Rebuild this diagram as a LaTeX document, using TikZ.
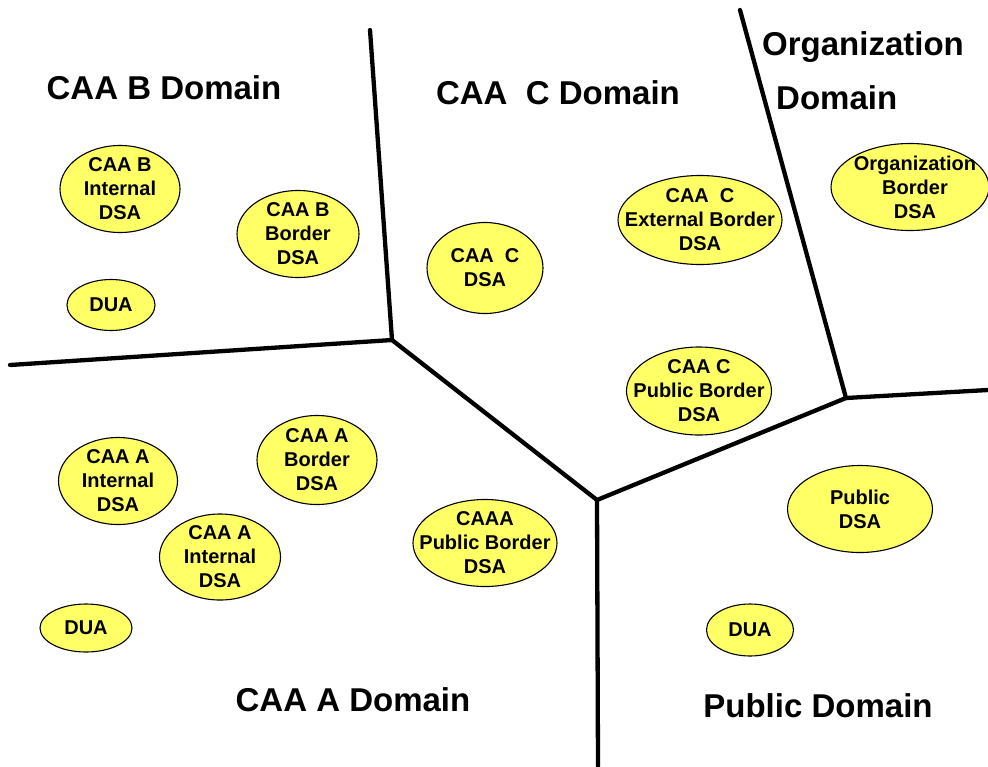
\documentclass[tikz,border=0pt]{standalone}
\usepackage{fontspec}
\setmainfont{Liberation Sans}
\usetikzlibrary{shapes.geometric}
\definecolor{dsayellow}{RGB}{255,255,102}
\tikzset{
  dsa/.style={ellipse, draw=black, line width=1.1pt, fill=dsayellow, inner sep=0pt},
  dsatxt/.style={align=center, inner sep=0pt, font=\fontsize{20}{24}\selectfont\bfseries},
  domtitle/.style={anchor=center, inner sep=0pt, font=\fontsize{33}{40}\selectfont\bfseries},
  border/.style={line width=4.3pt, line cap=round, line join=round}
}
\begin{document}
\begin{tikzpicture}[x=1pt, y=-1pt]
\useasboundingbox (0,0) rectangle (988,766);

% borders
\coordinate (bctop) at (370,30);
\coordinate (j1) at (392,340);
\coordinate (lefte) at (10,365);
\coordinate (j2) at (597,500);
\coordinate (bottome) at (598,766);
\coordinate (j3) at (846,398);
\coordinate (orgtop) at (740,10);
\coordinate (righte) at (988,390);
\draw[border] (bctop) -- (j1);
\draw[border] (lefte) -- (j1);
\draw[border] (j1) -- (j2);
\draw[border] (j2) -- (bottome);
\draw[border] (j2) -- (j3);
\draw[border] (orgtop) -- (j3);
\draw[border] (j3) -- (righte);

% titles
\node[domtitle] (tb) at (164,88) {CAA B Domain};
\node[domtitle] (tc) at (558,93) {CAA\ \ C Domain};
\node[domtitle, anchor=west] (to1) at (762,47) {Organization};
\node[domtitle, anchor=west] (to2) at (776,98) {Domain};
\node[domtitle] (ta) at (353,700) {CAA A Domain};
\node[domtitle] (tp) at (818,706) {Public Domain};

% CAA B domain
\node[dsa, minimum width=120, minimum height=87] (bint) at (120,189) {};
\node[dsatxt] at (bint) {CAA B\\Internal\\DSA};
\node[dsa, minimum width=122, minimum height=87] (bbor) at (298,234) {};
\node[dsatxt] at (bbor) {CAA B\\Border\\DSA};
\node[dsa, minimum width=88, minimum height=51] (bdua) at (111,305) {};
\node[dsatxt] at (bdua) {DUA};

% CAA C domain
\node[dsa, minimum width=116, minimum height=91] (cdsa) at (485,268) {};
\node[dsatxt] at (cdsa) {CAA\ \ C\\DSA};
\node[dsa, minimum width=164, minimum height=89] (cext) at (700,220) {};
\node[dsatxt] at (cext) {CAA\ \ C\\External Border\\DSA};
\node[dsa, minimum width=145, minimum height=88] (cpub) at (699,391) {};
\node[dsatxt] at (cpub) {CAA C\\Public Border\\DSA};

% Organization domain
\node[dsa, minimum width=158, minimum height=87] (obor) at (910,187) {};
\node[dsatxt] at ([xshift=5pt]obor.center) {Organization\\Border\\DSA};

% CAA A domain
\node[dsa, minimum width=119, minimum height=87] (aint1) at (118,481) {};
\node[dsatxt] at (aint1) {CAA A\\Internal\\DSA};
\node[dsa, minimum width=120, minimum height=89] (abor) at (317,460) {};
\node[dsatxt] at (abor) {CAA A\\Border\\DSA};
\node[dsa, minimum width=121, minimum height=86] (aint2) at (220,557) {};
\node[dsatxt] at (aint2) {CAA A\\Internal\\DSA};
\node[dsa, minimum width=144, minimum height=87] (apub) at (485,543) {};
\node[dsatxt] at (apub) {CAAA\\Public Border\\DSA};
\node[dsa, minimum width=92, minimum height=48] (adua) at (86,628) {};
\node[dsatxt] at (adua) {DUA};

% Public domain
\node[dsa, minimum width=145, minimum height=87] (pdsa) at (860,509) {};
\node[dsatxt] at (pdsa) {Public\\DSA};
\node[dsa, minimum width=87, minimum height=52] (pdua) at (750,630) {};
\node[dsatxt] at (pdua) {DUA};
\end{tikzpicture}
\end{document}
